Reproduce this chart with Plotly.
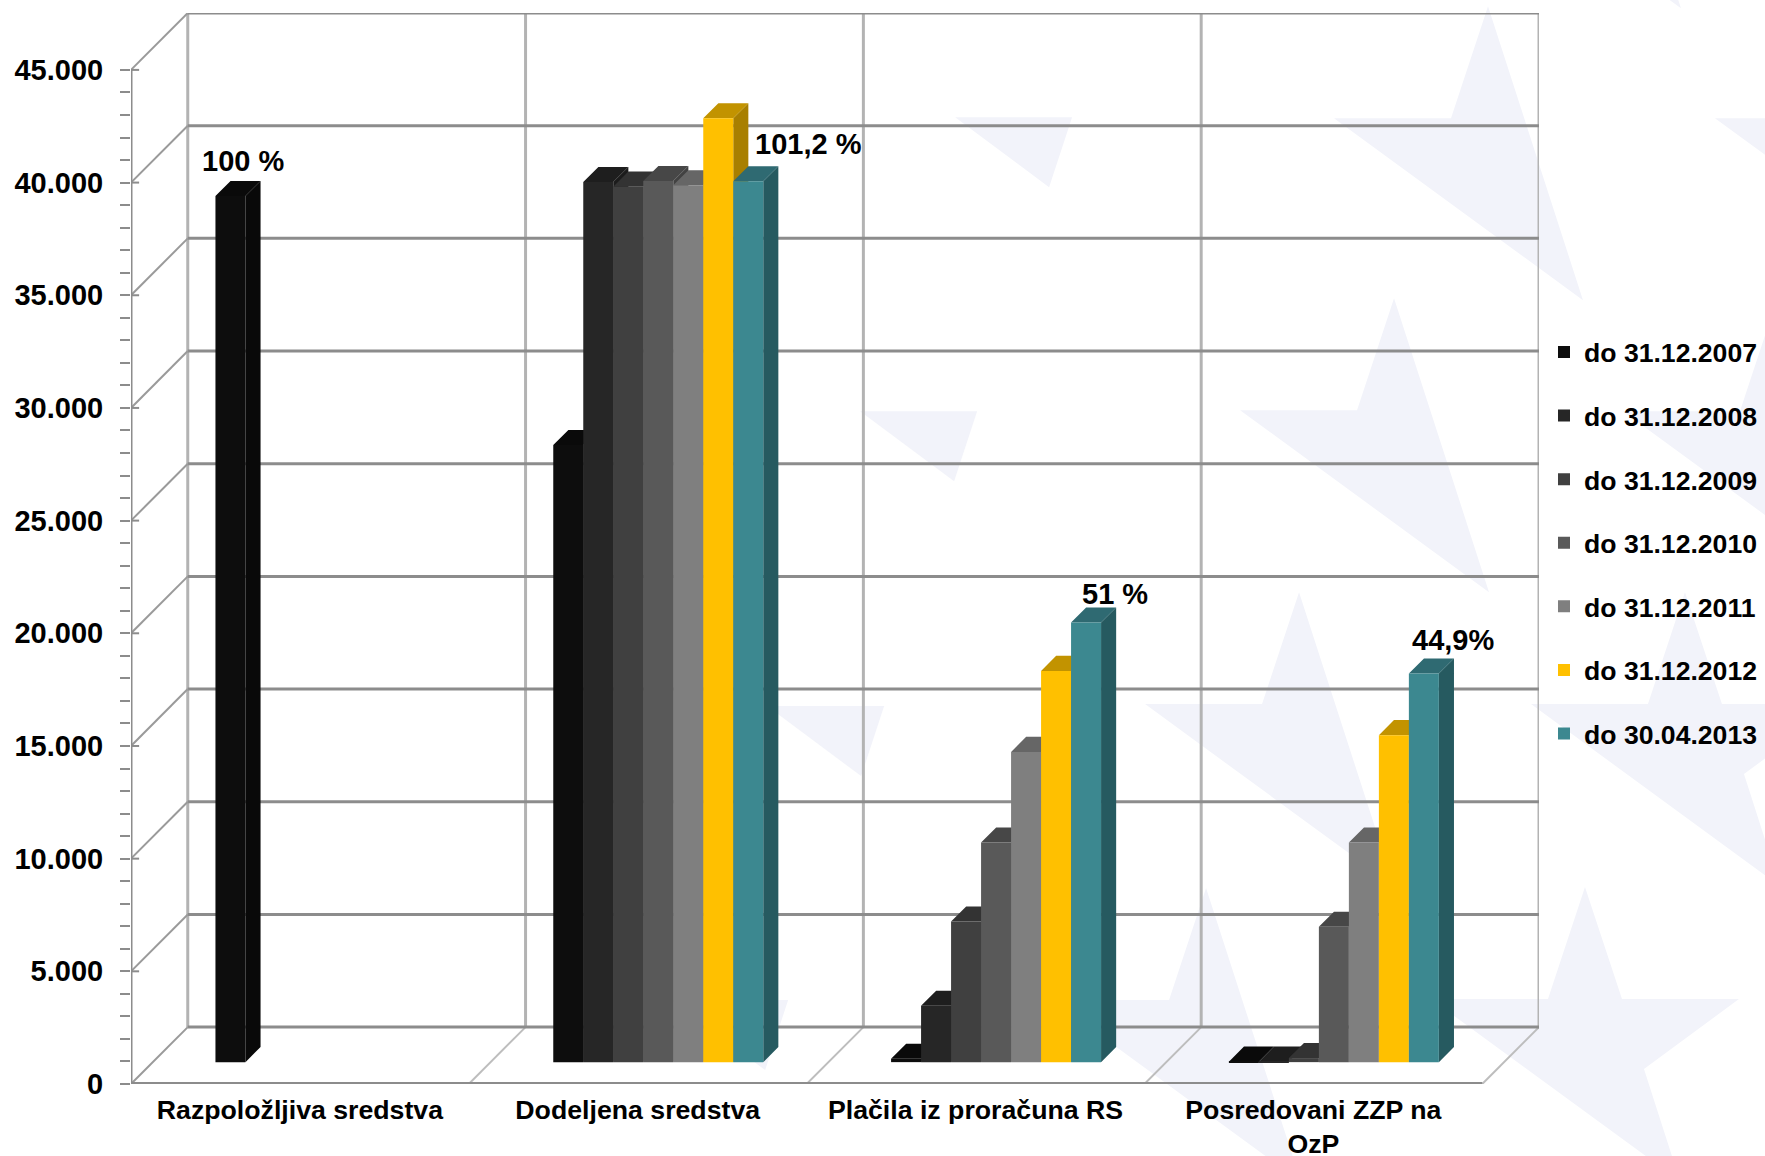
import plotly.graph_objects as go

# ---------- data ----------
categories = ["Razpoložljiva sredstva", "Dodeljena sredstva", "Plačila iz proračuna RS", "Posredovani ZZP na<br>OzP"]
series_names = ["do 31.12.2007", "do 31.12.2008", "do 31.12.2009", "do 31.12.2010",
                "do 31.12.2011", "do 31.12.2012", "do 30.04.2013"]
v2007 = [38435, 27380, 150, 20]
v2008 = [None, 39055, 2498, 20]
v2009 = [None, 38850, 6242, 180]
v2010 = [None, 39100, 9747, 6003]
v2011 = [None, 38910, 13766, 9747]
v2012 = [None, 41880, 17360, 14507]
v2013 = [None, 39090, 19508, 17245]
series_values = [v2007, v2008, v2009, v2010, v2011, v2012, v2013]
front_colors = ["#0d0d0d", "#262626", "#404040", "#595959", "#7f7f7f", "#ffc000", "#3c8890"]
top_colors = ["#0a0a0a", "#1e1e1e", "#333333", "#474747", "#666666", "#c29300", "#2f6a72"]
side_colors = ["#090909", "#1c1c1c", "#2f2f2f", "#424242", "#5f5f5f", "#a87f00", "#265a60"]
y_major = [0, 5000, 10000, 15000, 20000, 25000, 30000, 35000, 40000, 45000]
y_labels = ["0", "5.000", "10.000", "15.000", "20.000", "25.000", "30.000", "35.000", "40.000", "45.000"]
y_minor = [1000, 2000, 3000, 4000, 6000, 7000, 8000, 9000, 11000, 12000, 13000, 14000, 16000, 17000, 18000, 19000,
           21000, 22000, 23000, 24000, 26000, 27000, 28000, 29000, 31000, 32000, 33000, 34000, 36000, 37000, 38000,
           39000, 41000, 42000, 43000, 44000]
# (category index, series index, text, x shift px, y shift px)
bar_labels = [(0, 0, "100 %", 12.5, -2), (1, 5, "101,2 %", 90, 59), (2, 6, "51 %", 29, 5), (3, 6, "44,9%", 29, 0)]
star_apexes = [(1488, 6), (1394, 298), (1777, 299), (1869, 6), (1299, 592), (1206, 888), (1586, -286)]
full_star_apexes = [(1685, 592), (1585, 887)]
arm_apexes = [(1109, 5), (1014, 299), (921, 594), (825, 888)]

# ---------- geometry ----------
W, H = 1765, 1156
L, R, T, B = 130.7, 1539.0, 12.7, 1084.0
DX, DY = 0.168, 2525          # wall depth in axis units
BASE_X, BASE_Y = 0.25, 970    # bar front plane
BAR_W = 0.0888
BAR_DX, BAR_DY = 0.0447, 670  # bar depth
AXIS_GREY, WALL_GREY, FLOOR_GREY = "#8c8c8c", "#b3b3b3", "#bdbdbd"
STAR = "#f2f3fa"
FONT = "Liberation Sans"


def px(p):
    return (p - L) / (R - L)


def py(p):
    return 1 - (p - T) / (B - T)


def poly(points):
    return "M " + " L ".join(f"{px(a):.5f},{py(b):.5f}" for a, b in points) + " Z"


shapes = []


def bg(points):
    shapes.append(dict(type="path", path=poly(points), xref="paper", yref="paper",
                       fillcolor=STAR, line_width=0, layer="below"))


for ax, ay in star_apexes:
    bg([(ax, ay), (ax + 95, ay + 294), (ax - 154, ay + 112), (ax - 37, ay + 112)])
for ax, ay in full_star_apexes:
    bg([(ax, ay), (ax + 37, ay + 112), (ax + 154, ay + 112), (ax + 59, ay + 182), (ax + 95, ay + 294),
        (ax - 154, ay + 112), (ax - 37, ay + 112)])
for ax, ay in arm_apexes:
    bg([(ax - 154, ay + 112), (ax - 37, ay + 112), (ax - 60, ay + 182)])


def seg(x0, y0, x1, y1, color, width):
    shapes.append(dict(type="line", xref="x", yref="y", x0=x0, y0=y0, x1=x1, y1=y1,
                       line=dict(color=color, width=width), layer="below"))


n = len(categories)
for k in range(n + 1):
    seg(k + DX, DY, k + DX, y_major[-1] + DY, WALL_GREY, 3)
for k in range(1, n + 1):
    seg(k, 0, k + DX, DY, FLOOR_GREY, 2)
for v in y_major:
    seg(DX, v + DY, n + DX, v + DY, AXIS_GREY, 3)
    seg(0, v, DX, v + DY, "#9a9a9a", 2)
    seg(0, v, 0.024, v, AXIS_GREY, 2)
seg(0, 0, 0, y_major[-1], AXIS_GREY, 3)
seg(0, 0, n, 0, AXIS_GREY, 4)

# ---------- traces ----------
fig = go.Figure()
for i, (name, vals) in enumerate(zip(series_names, series_values)):
    xs = [c + BASE_X + i * BAR_W for c in range(n)]
    side_x, side_y, top_x, top_y = [], [], [], []
    for x, v in zip(xs, vals):
        if v is None:
            continue
        xr = x + BAR_W
        yt = BASE_Y + v
        side_x += [xr, xr + BAR_DX, xr + BAR_DX, xr, xr, None]
        side_y += [BASE_Y, BASE_Y + BAR_DY, yt + BAR_DY, yt, BASE_Y, None]
        top_x += [x, x + BAR_DX, xr + BAR_DX, xr, x, None]
        top_y += [yt, yt + BAR_DY, yt + BAR_DY, yt, yt, None]
    for px_, py_, col in ((side_x, side_y, side_colors[i]), (top_x, top_y, top_colors[i])):
        fig.add_trace(go.Scatter(x=px_, y=py_, mode="lines", fill="toself", fillcolor=col,
                                 line=dict(width=0, color=col), hoverinfo="skip",
                                 showlegend=False, zorder=2 * i, legendgroup=name))
    fig.add_trace(go.Bar(x=[x + BAR_W / 2 for x in xs], y=vals, base=BASE_Y, width=BAR_W, name=name,
                         marker=dict(color=front_colors[i], line_width=0), zorder=2 * i + 1,
                         legendgroup=name))

annotations = []
for c, s, text, dx, dy in bar_labels:
    annotations.append(dict(x=c + BASE_X + (s + 0.5) * BAR_W, y=BASE_Y + series_values[s][c] + BAR_DY,
                            text=text, showarrow=False, xanchor="center", yanchor="bottom",
                            xshift=dx, yshift=-dy,
                            font=dict(family=FONT, size=29, weight=700, color="#000000")))

fig.update_layout(
    width=W, height=H, autosize=False,
    margin=dict(l=L, r=W - R, t=T, b=H - B, pad=0, autoexpand=False),
    paper_bgcolor="#ffffff", plot_bgcolor="rgba(0,0,0,0)",
    barmode="overlay", shapes=shapes, annotations=annotations,
    font=dict(family=FONT, color="#000000"),
    legend=dict(x=px(1544), y=py(328), xanchor="left", yanchor="top", bgcolor="rgba(0,0,0,0)",
                tracegroupgap=26, traceorder="grouped", groupclick="togglegroup",
                font=dict(family=FONT, size=26.6, weight=700, color="#000000")),
    xaxis=dict(range=[0, n + DX], tickmode="array", tickvals=[c + 0.5 for c in range(n)], ticktext=categories,
               showgrid=False, zeroline=False, showline=False, ticks="", automargin=False,
               ticklabelstandoff=7,
               tickfont=dict(family=FONT, size=26.7, weight=700, color="#000000")),
    yaxis=dict(range=[0, y_major[-1] + DY], tickmode="array", tickvals=y_major, ticktext=y_labels,
               showgrid=False, zeroline=False, showline=False, ticks="outside", ticklen=10, tickwidth=2,
               tickcolor=AXIS_GREY, ticklabelstandoff=11, automargin=False,
               minor=dict(tickmode="array", tickvals=y_minor, ticks="outside", ticklen=10, tickwidth=2,
                          tickcolor=AXIS_GREY),
               tickfont=dict(family=FONT, size=29, weight=700, color="#000000")),
)

fig.write_html("out.html", config=dict(displayModeBar=False),
               post_script="document.body.style.margin='0';document.body.style.overflow='hidden';")
